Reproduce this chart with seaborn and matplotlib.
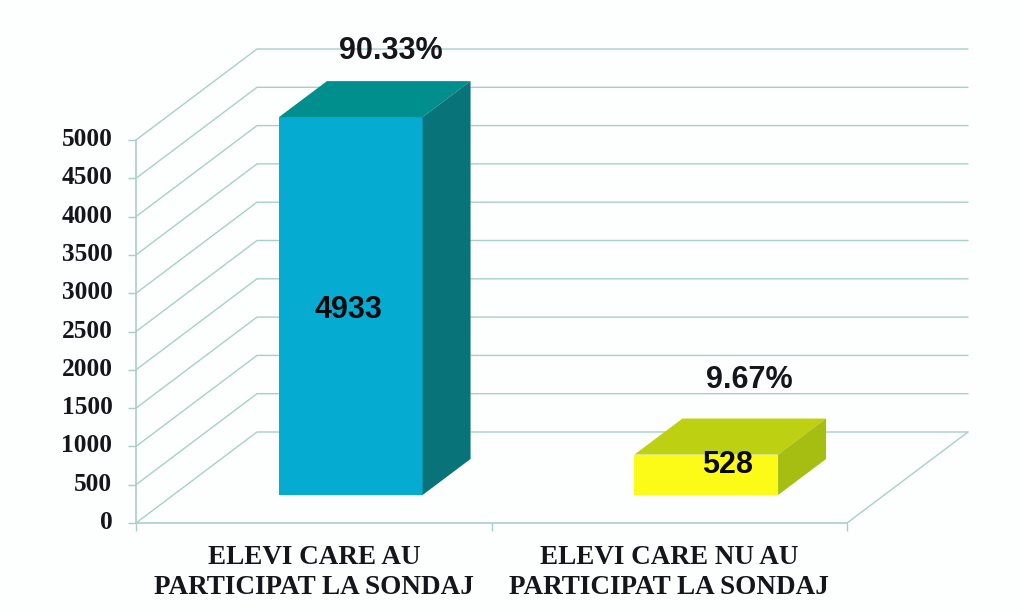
import matplotlib
matplotlib.use("Agg")
import matplotlib.pyplot as plt
from matplotlib.patches import Polygon
from matplotlib.transforms import ScaledTranslation
import numpy as np
import pandas as pd
import seaborn as sns

categories = ["ELEVI CARE AU\nPARTICIPAT LA SONDAJ", "ELEVI CARE NU AU\nPARTICIPAT LA SONDAJ"]
counts = [4933, 528]
percent_labels = ["90.33%", "9.67%"]
y_ticks = list(range(0, 5001, 500))

front_colors = ["#06ABD2", "#FBFB17"]
top_colors = ["#008F8C", "#BDD012"]
side_colors = ["#087379", "#A6BE12"]
grid_color = "#A9CFC9"
ink = "#14161C"

W, H = 1021, 613
L, R, Y0, Y5 = 136, 847, 523, 140
px_x = (R - L) / 2          # pixels per category
px_y = (Y0 - Y5) / 5000     # pixels per unit

# 3D projection offsets (in pixels, converted to data units)
wall_dx, wall_dy = 121 / px_x, 91 / px_y
bar_sx, bar_sy = 37 / px_x, 28 / px_y
bar_dx, bar_dy = 48 / px_x, 36 / px_y

sns.set_theme(style="white")
fig = plt.figure(figsize=(W / 100, H / 100), dpi=100, facecolor="#FDFEFE")
ax = fig.add_axes([L / W, 1 - Y0 / H, (R - L) / W, (Y0 - Y5) / H])
ax.patch.set_alpha(0)

df = pd.DataFrame({"cat": categories, "n": counts})
sns.barplot(data=df, x="cat", y="n", hue="cat", palette=front_colors, legend=False,
            width=0.404, ax=ax, saturation=1, linewidth=0, zorder=5)
ax.set_xlim(-0.5, 1.5)
ax.set_ylim(0, 5000)

# walls and grid
for v in y_ticks:
    ax.plot([-0.5, -0.5 + wall_dx, 1.5 + wall_dx], [v, v + wall_dy, v + wall_dy],
            color=grid_color, lw=1.0, clip_on=False, zorder=1)
ax.plot([1.5, 1.5 + wall_dx], [0, wall_dy], color=grid_color, lw=1.0, clip_on=False, zorder=1)

# bars in depth
for i, patch in enumerate(ax.patches[:2]):
    x0 = patch.get_x() + bar_sx
    w = patch.get_width()
    h = patch.get_height()
    patch.set_x(x0)
    patch.set_y(bar_sy)
    patch.set_clip_on(False)
    y0 = bar_sy
    y1 = bar_sy + h
    ax.add_patch(Polygon([(x0, y1), (x0 + w, y1), (x0 + w + bar_dx, y1 + bar_dy), (x0 + bar_dx, y1 + bar_dy)],
                         fc=top_colors[i], ec="none", clip_on=False, zorder=5))
    ax.add_patch(Polygon([(x0 + w, y0), (x0 + w + bar_dx, y0 + bar_dy), (x0 + w + bar_dx, y1 + bar_dy), (x0 + w, y1)],
                         fc=side_colors[i], ec="none", clip_on=False, zorder=5))

# value labels
inner_dx, inner_dy = [-2 / px_x, 21 / px_x], [-4 / px_y, 10 / px_y]
pct_dx = [40 / px_x, 43 / px_x]
lift = [30 / px_y, 39 / px_y]
for i, (n, pct) in enumerate(zip(counts, percent_labels)):
    ax.text(i + bar_sx + inner_dx[i], bar_sy + n / 2 + inner_dy[i], str(n),
            ha="center", va="center", fontfamily="Liberation Sans", fontweight="bold",
            fontsize=22, color="#0A0A0A", zorder=8)
    ax.text(i + bar_sx + pct_dx[i], bar_sy + n + bar_dy + lift[i], pct,
            ha="center", va="center", fontfamily="Liberation Sans", fontweight="bold",
            fontsize=22, color=ink, zorder=8, clip_on=False)

# axes
for s in ["top", "right"]:
    ax.spines[s].set_visible(False)
for s in ["left", "bottom"]:
    ax.spines[s].set_color(grid_color)
    ax.spines[s].set_linewidth(1.2)
ax.set_xlabel("")
ax.set_ylabel("")
ax.set_yticks(y_ticks)
ax.set_yticklabels([str(v) for v in y_ticks], fontfamily="Liberation Serif",
                   fontweight="bold", fontsize=18.3, color=ink)
ax.tick_params(axis="y", length=6, width=1.0, color=grid_color, left=True, pad=11)
nudge = ScaledTranslation(0, 3 / 100, fig.dpi_scale_trans)
for t in ax.get_yticklabels():
    t.set_transform(t.get_transform() + nudge)
ax.set_xticks([-0.5, 0.5, 1.5])
ax.set_xticklabels(["", "", ""])
ax.set_xticks([0, 1], labels=categories, minor=True)
ax.tick_params(axis="x", which="major", length=6, width=1.0, color=grid_color, bottom=True)
ax.tick_params(axis="x", which="minor", length=0, pad=15.5)
for t in ax.get_xticklabels(minor=True):
    t.set_fontfamily("Liberation Serif")
    t.set_fontweight("bold")
    t.set_fontsize(19.5)
    t.set_color(ink)
    t.set_linespacing(1.3)

fig.savefig("out.png", dpi=100, facecolor=fig.get_facecolor())
